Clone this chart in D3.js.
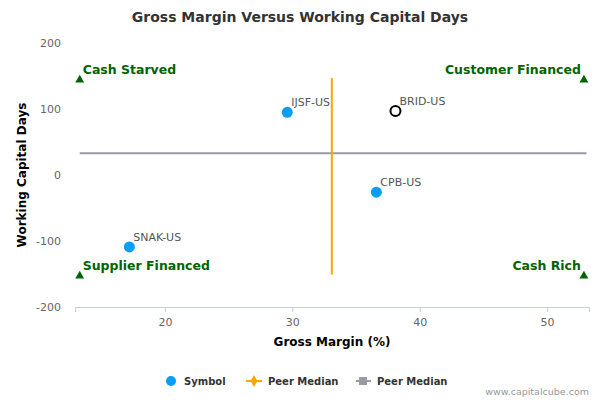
<!DOCTYPE html>
<html>
<head>
<meta charset="utf-8">
<script src="https://cdn.jsdelivr.net/npm/d3@7"></script>
<style>
  body { margin: 0; background: #fff; }
  svg { font-family: "DejaVu Sans", sans-serif; }
</style>
</head>
<body>
<svg id="chart" width="600" height="400"></svg>
<script>
// Data
const symbols = ["SNAK-US", "IJSF-US", "BRID-US", "CPB-US"];
const grossMargin = [17.2, 29.6, 38.1, 36.6];
const wcDays = [-109, 95, 97, -26];
const highlighted = ["BRID-US"];

const medianMargin = 33.1;
const medianDays = 33;
const medianMarginSpan = [-151, 147];
const medianDaysSpan = [13.3, 53.1];

const quadrantNames = ["Cash Starved", "Customer Financed", "Supplier Financed", "Cash Rich"];
const quadrantX = [13.3, 52.9, 13.3, 52.9];
const quadrantY = [144, 144, -153, -153];

const xTicks = [20, 30, 40, 50];
const yTicks = [200, 100, 0, -100, -200];

const margin = { top: 43, right: 11, bottom: 93, left: 75 };
const W = 600, H = 400;
const w = W - margin.left - margin.right;
const h = H - margin.top - margin.bottom;

const svg = d3.select("#chart");
const g = svg.append("g").attr("transform", `translate(${margin.left},${margin.top})`);

const x = d3.scaleLinear().domain([12.93, 53.3]).range([0, w]);
const y = d3.scaleLinear().domain([-200, 200]).range([h, 0]);

// Title
svg.append("text")
    .attr("x", W / 2).attr("y", 22)
    .attr("text-anchor", "middle")
    .style("font-size", "14px").style("font-weight", "bold").style("fill", "#333")
    .text("Gross Margin Versus Working Capital Days");

// X axis
const xAxis = g.append("g").attr("transform", `translate(0,${h})`)
    .call(d3.axisBottom(x).tickValues(xTicks).tickSize(5).tickPadding(6));
xAxis.select(".domain").attr("stroke", "#C0D0E0");
xAxis.selectAll(".tick line").attr("stroke", "#C0D0E0");
xAxis.selectAll(".tick text").style("font-size", "11px").style("fill", "#666")
    .style("font-family", "DejaVu Sans, sans-serif");

// Y axis (labels only, plain hyphen for negatives)
const yAxis = g.append("g")
    .call(d3.axisLeft(y).tickValues(yTicks).tickSize(0).tickPadding(14).tickFormat(d => String(d)));
yAxis.select(".domain").remove();
yAxis.selectAll(".tick text").style("font-size", "11px").style("fill", "#666")
    .style("font-family", "DejaVu Sans, sans-serif");

// Axis titles
svg.append("text")
    .attr("x", margin.left + w / 2).attr("y", 346)
    .attr("text-anchor", "middle")
    .style("font-size", "12px").style("font-weight", "bold").style("fill", "#000")
    .text("Gross Margin (%)");
svg.append("text")
    .attr("transform", `translate(26,${margin.top + h / 2}) rotate(-90)`)
    .attr("text-anchor", "middle")
    .style("font-size", "12px").style("font-weight", "bold").style("fill", "#000")
    .text("Working Capital Days");

// Peer median lines
g.append("line")
    .attr("x1", x(medianDaysSpan[0])).attr("x2", x(medianDaysSpan[1]))
    .attr("y1", y(medianDays)).attr("y2", y(medianDays))
    .attr("stroke", "#979BA6").attr("stroke-width", 2);
g.append("line")
    .attr("x1", x(medianMargin)).attr("x2", x(medianMargin))
    .attr("y1", y(medianMarginSpan[0])).attr("y2", y(medianMarginSpan[1]))
    .attr("stroke", "#FFA500").attr("stroke-width", 2);

// Quadrant markers and labels
const tri = d3.symbol().type(d3.symbolTriangle).size(34);
quadrantNames.forEach((name, i) => {
    const px = x(quadrantX[i]), py = y(quadrantY[i]);
    g.append("path").attr("d", tri).attr("transform", `translate(${px},${py})`)
        .attr("fill", "#006400");
    const right = i % 2 === 1;
    g.append("text")
        .attr("x", right ? px - 3 : px + 3).attr("y", py - 6)
        .attr("text-anchor", right ? "end" : "start")
        .style("font-size", "12.5px").style("font-weight", "bold").style("fill", "#006400")
        .text(name);
});

// Points
symbols.forEach((s, i) => {
    const px = x(grossMargin[i]), py = y(wcDays[i]);
    const hi = highlighted.includes(s);
    g.append("circle").attr("cx", px).attr("cy", py).attr("r", hi ? 5 : 5.5)
        .attr("fill", hi ? "#fff" : "#069EF7")
        .attr("stroke", hi ? "#000" : "none").attr("stroke-width", 2);
    g.append("text").attr("x", px + 4).attr("y", py - 6)
        .style("font-size", "11px").style("fill", "#555")
        .text(s);
});

// Legend
const leg = svg.append("g").attr("transform", "translate(0,381)");
leg.append("circle").attr("cx", 171).attr("cy", 0).attr("r", 5).attr("fill", "#069EF7");
leg.append("text").attr("x", 184).attr("y", 4).text("Symbol");
leg.append("line").attr("x1", 246).attr("x2", 262).attr("y1", 0).attr("y2", 0)
    .attr("stroke", "#FFA500").attr("stroke-width", 2);
leg.append("path").attr("d", d3.symbol().type(d3.symbolDiamond).size(40))
    .attr("transform", "translate(254,0)").attr("fill", "#FFA500");
leg.append("text").attr("x", 268).attr("y", 4).text("Peer Median");
leg.append("line").attr("x1", 356).attr("x2", 371).attr("y1", 0).attr("y2", 0)
    .attr("stroke", "#979BA6").attr("stroke-width", 2);
leg.append("rect").attr("x", 359).attr("y", -4).attr("width", 8).attr("height", 8)
    .attr("fill", "#979BA6");
leg.append("text").attr("x", 377).attr("y", 4).text("Peer Median");
leg.selectAll("text").style("font-size", "10px").style("font-weight", "bold").style("fill", "#333");

// Credit
svg.append("text").attr("x", 589).attr("y", 395).attr("text-anchor", "end")
    .style("font-size", "9.5px").style("fill", "#999")
    .text("www.capitalcube.com");
</script>
</body>
</html>
